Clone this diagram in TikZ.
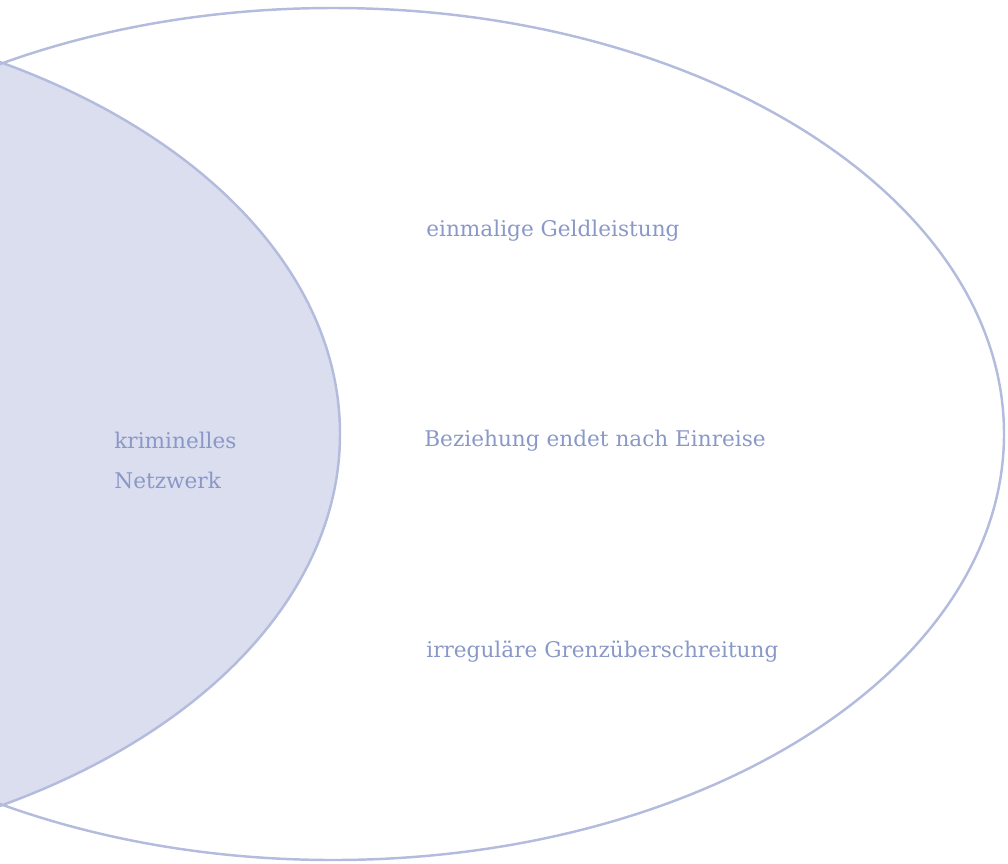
\documentclass[tikz,border=0pt]{standalone}
\usepackage{fontspec}
\setmainfont{DejaVu Serif}
\definecolor{rand}{RGB}{180,188,222}
\definecolor{flaeche}{RGB}{219,222,239}
\definecolor{schrift}{RGB}{138,152,200}
\tikzset{lbl/.style={anchor=west, inner sep=0pt, text=schrift, font=\fontsize{12.3}{22.8}\selectfont}}
\begin{document}
\begin{tikzpicture}
      \useasboundingbox (0, 0) rectangle (20.16, -17.26);
      \clip (0, 0) rectangle (20.16, -17.26);
      \fill [flaeche] (-6.48, -8.68) ellipse [x radius=13.28, y radius=8.52];
      \draw [rand, line width=1.4pt] (6.66, -8.68) ellipse [x radius=13.42, y radius=8.52]
            (-6.48, -8.68) ellipse [x radius=13.28, y radius=8.52];
      \node (netz) [lbl, align=left] at (2.28, -9.2) {kriminelles\\Netzwerk};
      \node (geld) [lbl] at (8.52, -4.62) {einmalige Geldleistung};
      \node (bez) [lbl] at (8.48, -8.82) {Beziehung endet nach Einreise};
      \node (grenze) [lbl] at (8.52, -13.04) {irreguläre Grenzüberschreitung};
\end{tikzpicture}
\end{document}
